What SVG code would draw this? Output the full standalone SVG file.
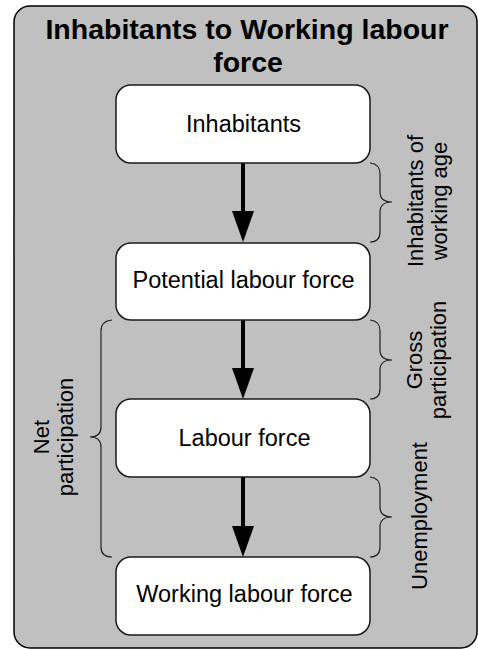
<svg xmlns="http://www.w3.org/2000/svg" width="478" height="649" viewBox="0 0 478 649">
<defs>
<style>
.frame{fill:#c0c0c0;stroke:#000;stroke-width:1.5}
.box{fill:#fff;stroke:#1a1a1a;stroke-width:1.5}
.t{font-family:"Liberation Sans",Arial,sans-serif;fill:#000}
.node{font-size:23.5px;text-anchor:middle}
.title{font-size:28.5px;font-weight:bold;text-anchor:middle}
.side{font-size:22px;text-anchor:middle}
.arrow{stroke:#000;stroke-width:4;fill:none}
.brace{stroke:#222;stroke-width:1.2;fill:none}
</style>
<marker id="ah" markerUnits="userSpaceOnUse" markerWidth="22" markerHeight="31" refX="11" refY="31" orient="0" viewBox="0 0 22 31">
<path d="M0,0 L22,0 L11,31 Z" fill="#000"/>
</marker>
</defs>
<g id="frame">
<rect class="frame" x="14" y="6" width="463" height="642" rx="16" ry="16"/>
<text class="t title" x="247" y="38.5">Inhabitants to Working labour</text>
<text class="t title" x="248" y="71.5">force</text>
</g>
<g id="connectors">
<line class="arrow" x1="243" y1="163" x2="243" y2="211" />
<path d="M232,211 L254,211 L243,242 Z" fill="#000"/>
<line class="arrow" x1="243" y1="320" x2="243" y2="368" />
<path d="M232,368 L254,368 L243,399 Z" fill="#000"/>
<line class="arrow" x1="243" y1="477" x2="243" y2="526" />
<path d="M232,526 L254,526 L243,557 Z" fill="#000"/>
</g>
<g id="braces">
<path class="brace" d="M370,163 Q380,164 380,174 L380,192 Q380,202 392,202 Q380,202 380,212 L380,232 Q380,242 370,242"/>
<path class="brace" d="M370,320 Q380,321 380,331 L380,350 Q380,360 392,360 Q380,360 380,370 L380,389 Q380,399 370,399"/>
<path class="brace" d="M370,477 Q380,478 380,488 L380,507 Q380,517 392,517 Q380,517 380,527 L380,547 Q380,557 370,557"/>
<path class="brace" d="M112,320 Q101,321 101,331 L101,427 Q101,437 90,437 Q101,437 101,447 L101,547 Q101,557 112,557"/>
</g>
<g id="inhabitants">
<rect class="box" x="116" y="85" width="254" height="78" rx="15" ry="15"/>
<text class="t node" x="243.5" y="131.5">Inhabitants</text>
</g>
<g id="potential">
<rect class="box" x="116" y="243" width="254" height="77" rx="15" ry="15"/>
<text class="t node" x="243.5" y="288">Potential labour force</text>
</g>
<g id="labour">
<rect class="box" x="116" y="399" width="254" height="78" rx="15" ry="15"/>
<text class="t node" x="244.5" y="445.5">Labour force</text>
</g>
<g id="working">
<rect class="box" x="116" y="557" width="254" height="78" rx="15" ry="15"/>
<text class="t node" x="244.5" y="601.5">Working labour force</text>
</g>
<g id="label-working-age">
<text class="t side" transform="translate(423,201) rotate(-90)"><tspan x="0" y="0">Inhabitants of</tspan><tspan x="0" y="24">working age</tspan></text>
</g>
<g id="label-gross">
<text class="t side" transform="translate(422,360) rotate(-90)"><tspan x="0" y="0">Gross</tspan><tspan x="0" y="24">participation</tspan></text>
</g>
<g id="label-unemployment">
<text class="t side" transform="translate(427,516) rotate(-90)">Unemployment</text>
</g>
<g id="label-net">
<text class="t side" transform="translate(49,437) rotate(-90)"><tspan x="0" y="0">Net</tspan><tspan x="0" y="24">participation</tspan></text>
</g>
</svg>
